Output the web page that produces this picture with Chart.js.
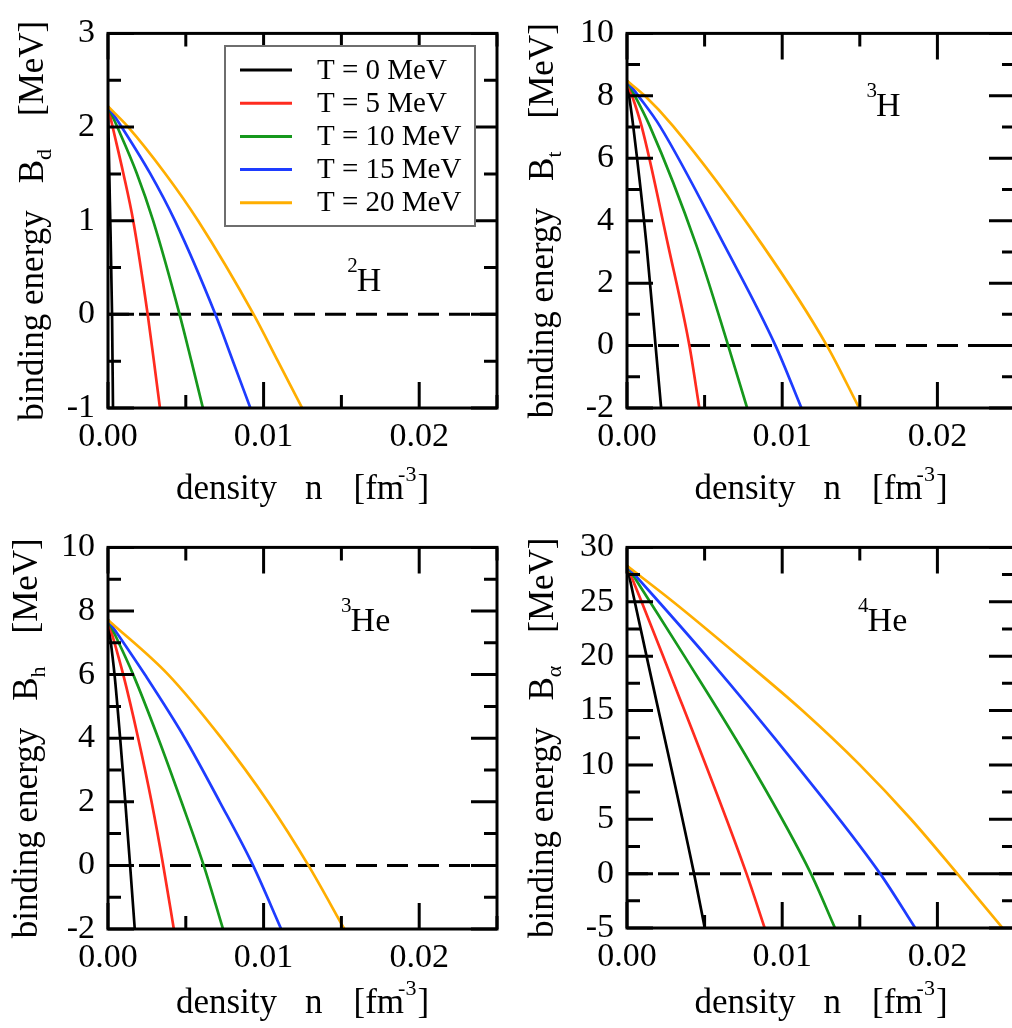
<!DOCTYPE html>
<html>
<head>
<meta charset="utf-8">
<title>Binding energies of light clusters vs density</title>
<script src="https://cdn.jsdelivr.net/npm/chart.js@4.4.1/dist/chart.umd.min.js"></script>
<style>
  html, body { margin: 0; padding: 0; background: #fff; overflow: hidden; }
  body { width: 1012px; height: 1028px; position: relative; }
  canvas { position: absolute; }
</style>
</head>
<body>
<canvas id="c-d" width="506" height="514" style="left:0;top:0"></canvas>
<canvas id="c-t" width="518" height="514" style="left:506px;top:0"></canvas>
<canvas id="c-h" width="506" height="514" style="left:0;top:514px"></canvas>
<canvas id="c-a" width="518" height="514" style="left:506px;top:514px"></canvas>
<script>
/* Binding energy of 2H, 3H, 3He, 4He vs density, for T = 0..20 MeV */

const temps = [0, 5, 10, 15, 20];
const tempColors = ['#000000', '#ff2b1f', '#16981c', '#1e3cff', '#ffae00'];

const xMajor = [0, 0.01, 0.02];
const yMajorD = [-1, 0, 1, 2, 3];
const yMajorT = [-2, 0, 2, 4, 6, 8, 10];
const yMajorA = [-5, 0, 5, 10, 15, 20, 25, 30];

// [density n (fm^-3), binding energy B (MeV)], one list per temperature
const deuteron = [
  [[0, 2.22], [0.00012, 1.2], [0.00026, 0], [0.00032, -1]],
  [[0, 2.22], [0.0003, 2], [0.00098, 1.51], [0.00162, 1], [0.00255, 0], [0.00295, -0.5], [0.00334, -1]],
  [[0, 2.22], [0.0006, 2], [0.00184, 1.51], [0.0029, 1], [0.0046, 0], [0.00536, -0.5], [0.0061, -1]],
  [[0, 2.22], [0.00088, 2], [0.00269, 1.51], [0.0043, 1], [0.0069, 0], [0.00803, -0.5], [0.00915, -1]],
  [[0, 2.22], [0.0013, 2], [0.00365, 1.51], [0.00579, 1], [0.00936, 0], [0.01092, -0.5], [0.01248, -1]]
];
const triton = [
  [[0, 8.48], [0.0004, 7.03], [0.00126, 3.21], [0.00184, 0], [0.0022, -2]],
  [[0, 8.48], [0.00094, 7.03], [0.00265, 3.21], [0.00402, 0], [0.00466, -2]],
  [[0, 8.48], [0.00147, 7.03], [0.00447, 3.21], [0.00652, 0], [0.00774, -2]],
  [[0, 8.48], [0.00073, 8], [0.00212, 7.03], [0.00628, 3.21], [0.00957, 0], [0.01124, -2]],
  [[0, 8.48], [0.00115, 8], [0.00297, 7.03], [0.00874, 3.21], [0.01288, 0], [0.01496, -2]]
];
const helion = [
  [[0, 7.72], [0.00042, 6], [0.00078, 4], [0.00111, 2], [0.00142, 0], [0.00172, -2]],
  [[0, 7.72], [0.00098, 6], [0.00194, 4], [0.0028, 2], [0.00355, 0], [0.00423, -2]],
  [[0, 7.72], [0.00162, 6], [0.00323, 4], [0.00472, 2], [0.00615, 0], [0.00739, -2]],
  [[0, 7.72], [0.00237, 6], [0.00494, 4], [0.00718, 2], [0.00932, 0], [0.01113, -2]],
  [[0, 7.72], [0.00387, 6], [0.00729, 4], [0.01028, 2], [0.01288, 0], [0.01519, -2]]
];
const alpha = [
  [[0, 28.3], [0.00126, 20], [0.00432, 0], [0.00501, -5]],
  [[0, 28.3], [0.00094, 25], [0.00233, 20], [0.0077, 0], [0.00887, -5]],
  [[0, 28.3], [0.00148, 25], [0.0037, 20], [0.008, 10], [0.01185, 0], [0.0134, -5]],
  [[0, 28.3], [0.00511, 20], [0.0109, 10], [0.01631, 0], [0.01857, -5]],
  [[0, 28.3], [0.00297, 25], [0.0072, 20], [0.0113, 15], [0.015, 10], [0.0183, 5], [0.02128, 0], [0.0242, -5]]
];
const zeroLine = [[0, 0], [0.025, 0]];

const SERIF = '"Liberation Serif", "Times New Roman", serif';

const panels = [
  { id: 'c-d', curves: deuteron, yMin: -1, yMax: 3, yStep: 0.5, yMajor: yMajorD, sub: 'd',
    mass: '2', sym: 'H', labelAt: [0.01538, 0.25], legend: true,
    box: { left: 108, top: 21, right: 499, bottom: 408 }, yTitleX: 43 },
  { id: 'c-t', curves: triton, yMin: -2, yMax: 10, yStep: 1, yMajor: yMajorT, sub: 't',
    mass: '3', sym: 'H', labelAt: [0.01543, 7.36], legend: false,
    box: { left: 121, top: 21, right: 511, bottom: 408 }, yTitleX: 47 },
  { id: 'c-h', curves: helion, yMin: -2, yMax: 10, yStep: 1, yMajor: yMajorT, sub: 'h',
    mass: '3', sym: 'He', labelAt: [0.01498, 7.38], legend: false,
    box: { left: 108, top: 25, right: 499, bottom: 415 }, yTitleX: 37 },
  { id: 'c-a', curves: alpha, yMin: -5, yMax: 30, yStep: 2.5, yMajor: yMajorA, sub: 'α',
    mass: '4', sym: 'He', labelAt: [0.01489, 22.35], legend: false,
    box: { left: 121, top: 25, right: 511, bottom: 414 }, yTitleX: 47 }
];

function isMajor(v, list) {
  return list.some(m => Math.abs(m - v) < 1e-7);
}

// frame, inward ticks, titles, legend, nucleus label
const decorPlugin = {
  id: 'decor',
  afterDatasetsDraw(chart, args, opts) {
    const p = opts.panel;
    const { ctx, chartArea: a, scales: { x, y } } = chart;
    ctx.save();
    ctx.strokeStyle = '#000';
    ctx.lineWidth = 3;
    ctx.beginPath();
    x.ticks.forEach(t => {
      const px = x.getPixelForValue(t.value);
      const len = isMajor(t.value, xMajor) ? 26 : 13;
      ctx.moveTo(px, a.bottom); ctx.lineTo(px, a.bottom - len);
      ctx.moveTo(px, a.top); ctx.lineTo(px, a.top + len);
    });
    y.ticks.forEach(t => {
      const py = y.getPixelForValue(t.value);
      const len = isMajor(t.value, p.yMajor) ? 26 : 13;
      ctx.moveTo(a.left, py); ctx.lineTo(a.left + len, py);
      ctx.moveTo(a.right, py); ctx.lineTo(a.right - len, py);
    });
    ctx.stroke();
    ctx.strokeRect(a.left, a.top, a.right - a.left, a.bottom - a.top);
    ctx.restore();
  },
  afterDraw(chart, args, opts) {
    const p = opts.panel;
    const { ctx, chartArea: a, scales: { x, y } } = chart;
    ctx.save();
    ctx.fillStyle = '#000';
    ctx.textBaseline = 'alphabetic';
    ctx.textAlign = 'left';

    // x title: density  n  [fm^-3]
    const big = '35px ' + SERIF, small = '22px ' + SERIF;
    ctx.font = big;
    const wD = ctx.measureText('density').width;
    const wN = ctx.measureText('n').width;
    const wF = ctx.measureText('[fm').width;
    const wR = ctx.measureText(']').width;
    ctx.font = small;
    const wE = ctx.measureText('-3').width;
    const g1 = 28, g2 = 31;
    let tx = (a.left + a.right) / 2 - (wD + g1 + wN + g2 + wF + wE - 5 + wR) / 2;
    const ty = 499;
    ctx.font = big;
    ctx.fillText('density', tx, ty); tx += wD + g1;
    ctx.fillText('n', tx, ty); tx += wN + g2;
    ctx.fillText('[fm', tx, ty); tx += wF - 6;
    ctx.font = small;
    ctx.fillText('-3', tx, ty - 18); tx += wE + 1;
    ctx.font = big;
    ctx.fillText(']', tx, ty);

    // y title: binding energy  B_sub  [MeV]
    ctx.save();
    ctx.translate(p.yTitleX, (a.top + a.bottom) / 2);
    ctx.rotate(-Math.PI / 2);
    ctx.font = big;
    const wBE = ctx.measureText('binding energy').width;
    const wB = ctx.measureText('B').width;
    const wM = ctx.measureText('[MeV]').width;
    ctx.font = small;
    const wS = ctx.measureText(p.sub).width;
    const h1 = 27, h2 = 33;
    let sx = -(wBE + h1 + wB + wS + h2 + wM) / 2;
    ctx.font = big;
    ctx.fillText('binding energy', sx, 0); sx += wBE + h1;
    ctx.fillText('B', sx, 0); sx += wB;
    ctx.font = small;
    ctx.fillText(p.sub, sx, 8); sx += wS + h2;
    ctx.font = big;
    ctx.fillText('[MeV]', sx, 0);
    ctx.restore();

    // nucleus label
    const lx = x.getPixelForValue(p.labelAt[0]);
    const ly = y.getPixelForValue(p.labelAt[1]);
    ctx.font = '21px ' + SERIF;
    ctx.fillText(p.mass, lx, ly - 19);
    const wm = ctx.measureText(p.mass).width;
    ctx.font = '34px ' + SERIF;
    ctx.fillText(p.sym, lx + wm - 1, ly);

    // legend box (top-left panel only)
    if (p.legend) {
      const L = 225, T = 46, R = 475, B = 226;
      ctx.fillStyle = '#fff';
      ctx.fillRect(L, T, R - L, B - T);
      ctx.strokeStyle = '#6e6e6e';
      ctx.lineWidth = 2;
      ctx.strokeRect(L, T, R - L, B - T);
      ctx.font = '29px ' + SERIF;
      ctx.textBaseline = 'middle';
      temps.forEach((t, i) => {
        const ey = 70 + i * 33.2;
        ctx.strokeStyle = tempColors[i];
        ctx.lineWidth = 3;
        ctx.beginPath();
        ctx.moveTo(240, ey); ctx.lineTo(292, ey);
        ctx.stroke();
        ctx.fillStyle = '#000';
        ctx.fillText('T = ' + t + ' MeV', 317, ey + 1);
      });
    }
    ctx.restore();
  }
};

panels.forEach(p => {
  const canvas = document.getElementById(p.id);
  const W = canvas.width, H = canvas.height;
  const tickFont = { family: SERIF, size: 34 };

  const datasets = p.curves.map((pts, i) => ({
    label: 'T = ' + temps[i] + ' MeV',
    data: pts.map(([n, b]) => ({ x: n, y: b })),
    borderColor: tempColors[i],
    borderWidth: 2.7,
    cubicInterpolationMode: 'monotone',
    pointRadius: 0,
    fill: false,
    order: 5 - i
  }));
  datasets.push({
    label: 'zero',
    data: zeroLine.map(([n, b]) => ({ x: n, y: b })),
    borderColor: '#000',
    borderWidth: 3,
    borderDash: [21, 10],
    pointRadius: 0,
    fill: false,
    order: 10
  });

  new Chart(canvas, {
    type: 'line',
    data: { datasets },
    options: {
      responsive: false,
      animation: false,
      events: [],
      layout: { padding: { top: p.box.top, right: W - p.box.right, bottom: 0, left: 0 } },
      plugins: {
        legend: { display: false },
        tooltip: { enabled: false },
        decor: { panel: p }
      },
      scales: {
        x: {
          type: 'linear', min: 0, max: 0.025,
          grid: { display: false, drawTicks: false },
          border: { display: false },
          ticks: {
            stepSize: 0.005, autoSkip: false, maxRotation: 0, padding: 9,
            color: '#000', font: tickFont,
            callback: v => isMajor(v, xMajor) ? v.toFixed(2) : ''
          },
          afterFit: s => { s.height = H - p.box.bottom; }
        },
        y: {
          type: 'linear', min: p.yMin, max: p.yMax,
          grid: { display: false, drawTicks: false },
          border: { display: false },
          ticks: {
            stepSize: p.yStep, autoSkip: false, padding: 13,
            color: '#000', font: tickFont,
            callback: v => isMajor(v, p.yMajor) ? String(Math.round(v)) : ''
          },
          afterFit: s => { s.width = p.box.left; }
        }
      }
    },
    plugins: [decorPlugin]
  });
});
</script>
</body>
</html>
